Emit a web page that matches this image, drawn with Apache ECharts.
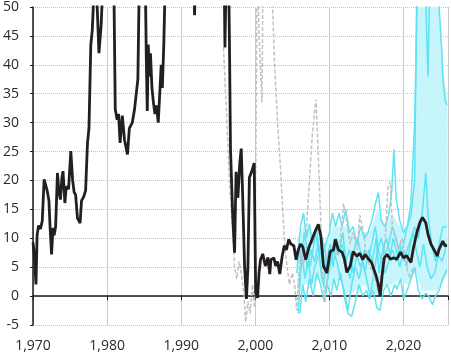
<!DOCTYPE html>
<html>
<head>
<meta charset="utf-8">
<script src="https://cdn.jsdelivr.net/npm/echarts@6/dist/echarts.min.js"></script>
<style>
  html, body { margin: 0; padding: 0; background: #fff; }
  #chart { width: 451px; height: 353px; }
</style>
</head>
<body>
<div id="chart"></div>
<script>
    'use strict';

    // axis ticks
    var yTicks = [-5, 0, 5, 10, 15, 20, 25, 30, 35, 40, 45, 50];
    var xTicks = [1970, 1980, 1990, 2000, 2010, 2020];

    // main series (black), values above 50 run off the top of the chart
    var blackLine = [
        [1970.0, 9.3], [1970.15, 7.5], [1970.4, 2.0], [1970.55, 10.5], [1970.75, 12.2], [1971.0, 11.6],
        [1971.25, 13.0], [1971.5, 20.2], [1971.7, 20.0], [1971.9, 18.3], [1972.15, 16.5], [1972.3, 12.0],
        [1972.5, 7.2], [1972.7, 11.8], [1972.85, 10.5], [1973.05, 12.0], [1973.3, 21.3], [1973.5, 18.0],
        [1973.7, 16.7], [1973.9, 20.5], [1974.05, 21.6], [1974.3, 16.1], [1974.5, 19.0], [1974.8, 18.5],
        [1975.1, 25.1], [1975.35, 20.0], [1975.55, 18.0], [1975.75, 17.5], [1976.0, 13.5], [1976.35, 12.6],
        [1976.55, 16.5], [1976.85, 17.2], [1977.1, 18.3], [1977.35, 26.5], [1977.55, 29.0], [1977.8, 43.5],
        [1978.0, 46.0], [1978.3, 55], [1978.6, 52], [1978.9, 42.0], [1979.2, 47], [1979.45, 55],
        [1980.0, 70], [1980.9, 55], [1981.1, 32.3], [1981.35, 30.5], [1981.55, 31.5], [1981.75, 26.5],
        [1982.05, 31.2], [1982.35, 27.0], [1982.75, 24.5], [1983.0, 29.0], [1983.4, 30.0], [1983.7, 32.3],
        [1984.0, 35.8], [1984.15, 37.5], [1984.35, 55], [1984.8, 60], [1985.15, 55], [1985.3, 40],
        [1985.42, 32], [1985.55, 43.5], [1985.7, 38], [1985.85, 42], [1986.05, 36], [1986.25, 33.5],
        [1986.45, 31.5], [1986.65, 33], [1986.9, 30.0], [1987.1, 35], [1987.3, 40], [1987.45, 36],
        [1987.65, 43.5], [1987.85, 55], [1989.0, 70], [1991.6, 60], [1991.8, 48.6], [1992.0, 60],
        [1994.0, 70], [1995.8, 55], [1995.9, 43], [1996.05, 55], [1996.35, 60], [1996.5, 45],
        [1996.65, 25.4], [1996.95, 13.8], [1997.2, 7.5], [1997.4, 21.5], [1997.65, 17], [1997.9, 23],
        [1998.1, 25.5], [1998.3, 17], [1998.55, 5.2], [1998.8, -0.5], [1999.0, 5], [1999.2, 20.5],
        [1999.5, 21.5], [1999.85, 23], [2000.05, 0.6], [2000.3, -0.3], [2000.5, 4], [2000.7, 6.3],
        [2001.0, 7.3], [2001.35, 5.2], [2001.7, 6.7], [2001.95, 3.8], [2002.1, 6.3], [2002.5, 6.6],
        [2002.75, 5.2], [2003.0, 6.0], [2003.3, 3.8], [2003.6, 6.7], [2003.9, 8.7], [2004.2, 8.0],
        [2004.5, 9.8], [2004.8, 9.0], [2005.2, 8.7], [2005.5, 6.3], [2005.8, 8.0], [2006.1, 9.0],
        [2006.4, 8.5], [2006.8, 6.3], [2007.2, 8.3], [2007.65, 9.8], [2008.1, 11.3], [2008.5, 12.4],
        [2008.85, 10.3], [2009.2, 5.2], [2009.65, 4.0], [2010.1, 7.7], [2010.55, 8.0], [2010.8, 9.8],
        [2011.2, 8.0], [2011.7, 7.6], [2012.0, 6.5], [2012.35, 4.1], [2012.8, 5.2], [2013.2, 7.7],
        [2013.7, 6.9], [2014.1, 7.4], [2014.5, 6.3], [2014.8, 7.2], [2015.3, 6.4], [2015.7, 5.8],
        [2016.0, 4.6], [2016.3, 3.5], [2016.6, 2.0], [2016.85, 0.0], [2017.1, 3.5], [2017.4, 6.6],
        [2017.8, 7.2], [2018.2, 6.4], [2018.7, 6.6], [2019.1, 6.4], [2019.6, 7.6], [2020.0, 6.6],
        [2020.4, 7.0], [2020.7, 6.4], [2021.0, 5.8], [2021.3, 8.1], [2021.8, 11.0], [2022.2, 12.7],
        [2022.55, 13.6], [2023.0, 12.7], [2023.3, 10.7], [2023.7, 9.0], [2024.2, 7.8], [2024.55, 6.9],
        [2024.8, 8.1], [2025.3, 9.5], [2025.6, 8.7], [2025.85, 8.8]
    ];

    // grey dashed series
    var greyLine = [
        [1995.7, 43], [1996.1, 32], [1996.5, 20], [1996.9, 12], [1997.2, 5], [1997.5, 3], [1997.8, 6],
        [1998.1, 4], [1998.4, 1], [1998.7, -4.5], [1999.0, -1], [1999.3, -3], [1999.6, 2], [1999.9, -2],
        [2000.1, 30], [2000.25, 60], [2000.5, 45], [2000.9, 33.5], [2001.05, 60], [2001.5, 70],
        [2002.2, 55], [2002.6, 40], [2003.0, 30], [2003.4, 22], [2003.7, 15], [2004.0, 8], [2004.3, 5],
        [2004.6, 2], [2005.0, 4], [2005.3, 2], [2005.6, -2.5], [2005.9, 4], [2006.2, 8], [2006.5, 5],
        [2006.8, 10], [2007.1, 16], [2007.4, 22], [2007.7, 28], [2008.0, 32], [2008.2, 34], [2008.5, 24],
        [2008.8, 14], [2009.1, 4], [2009.4, -1], [2009.7, 3], [2010.0, 6], [2010.5, 9], [2011.0, 7],
        [2011.5, 10], [2011.9, 16], [2012.3, 13], [2012.8, 9], [2013.2, 11], [2013.7, 8], [2014.1, 14],
        [2014.6, 11], [2015.0, 7], [2015.5, 5], [2016.0, 4], [2016.5, 1], [2017.0, 4], [2017.5, 9],
        [2017.9, 19], [2018.2, 19.8], [2018.5, 12], [2018.9, 10], [2019.3, 8], [2019.8, 10], [2020.2, 7],
        [2020.6, 4], [2020.9, 3], [2021.2, 5]
    ];

    // cyan series
    var cyanA = [
        [2005.7, 6], [2006.1, 12], [2006.5, 14.4], [2006.9, 10], [2007.3, 12.5], [2007.7, 9], [2008.1, 11],
        [2008.5, 8], [2009.0, 7], [2009.5, 9], [2010.0, 11], [2010.4, 14.4], [2010.8, 12], [2011.3, 14.4],
        [2011.7, 12], [2012.2, 15], [2012.7, 11], [2013.2, 12], [2013.7, 9], [2014.2, 12], [2014.7, 10],
        [2015.2, 11], [2015.7, 13], [2016.2, 16], [2016.6, 17.9], [2017.0, 13], [2017.5, 12], [2018.0, 14],
        [2018.4, 18], [2018.7, 25.4], [2019.0, 17], [2019.5, 13], [2020.0, 11], [2020.5, 12], [2021.0, 14],
        [2021.5, 20], [2021.8, 55], [2022.5, 70], [2023.5, 70], [2024.7, 52], [2024.9, 47.9],
        [2025.15, 42.7], [2025.3, 38], [2025.6, 34], [2025.85, 33]
    ];
    var cyanB = [
        [2005.8, -3], [2006.1, 4], [2006.5, 9], [2007.0, 5], [2007.5, 8], [2008.0, 6], [2008.5, 9],
        [2009.0, 3], [2009.5, 1], [2010.0, 5], [2010.5, 8], [2011.0, 6], [2011.5, 3], [2012.0, 1],
        [2012.5, -2.5], [2013.0, 2], [2013.5, 5], [2014.0, 3], [2014.5, 6], [2015.0, 3], [2015.5, 0],
        [2016.0, 4], [2016.5, 8], [2017.0, 10], [2017.5, 7], [2018.0, 9], [2018.5, 12], [2019.0, 10],
        [2019.5, 7], [2020.0, 9], [2020.5, 12], [2021.0, 16], [2021.5, 30], [2021.9, 55], [2022.8, 60],
        [2023.3, 38], [2023.6, 58], [2024.2, 60], [2024.9, 55], [2025.85, 52]
    ];
    var cyanC = [
        [2005.9, 2], [2006.3, 7], [2006.7, 3], [2007.1, 6], [2007.6, 2], [2008.0, 5], [2008.5, 7],
        [2009.0, 10], [2009.4, 8], [2009.8, 3], [2010.2, 6], [2010.7, 10], [2011.2, 7], [2011.7, 9],
        [2012.2, 6], [2012.7, 8], [2013.2, 4], [2013.7, 7], [2014.2, 5], [2014.7, 8], [2015.2, 6],
        [2015.7, 9], [2016.2, 12], [2016.6, 8], [2017.0, 6], [2017.5, 4], [2018.0, 6], [2018.5, 8],
        [2019.0, 6], [2019.5, 9], [2020.0, 6], [2020.5, 8], [2021.0, 10], [2021.5, 12], [2022.0, 10],
        [2022.5, 14], [2023.0, 21.3], [2023.3, 14], [2023.8, 9], [2024.3, 6], [2024.8, 9], [2025.3, 12],
        [2025.85, 12]
    ];
    var cyanD = [
        [2006.0, -3], [2006.4, 2], [2006.8, -1], [2007.3, 3], [2007.8, 0], [2008.3, 4], [2008.8, 2],
        [2009.3, -1], [2009.7, 2], [2010.2, 0], [2010.6, 3], [2011.0, 1], [2011.5, 4], [2012.0, 0],
        [2012.5, -3], [2013.0, -3.5], [2013.5, -1], [2014.0, 2], [2014.5, 0], [2015.0, 1], [2015.4, -0.5],
        [2015.9, 1], [2016.4, -2], [2016.8, -2.5], [2017.3, 1], [2017.8, 2], [2018.3, 0], [2018.8, 2],
        [2019.1, 1.2], [2019.6, 3], [2020.0, -0.5], [2020.5, 1], [2021.0, 3], [2021.5, 5], [2022.0, 1],
        [2022.5, -0.5], [2023.0, 0.5], [2023.4, 0], [2023.9, -1.5], [2024.3, 0], [2024.8, 1], [2025.3, 3],
        [2025.85, 4.6]
    ];
    var cyanE = [
        [2005.6, 4], [2005.9, 9], [2006.2, 5], [2006.6, 11], [2007.0, 8], [2007.4, 5], [2007.9, 9],
        [2008.3, 12], [2008.7, 6], [2009.2, 2], [2009.6, 6], [2010.1, 9], [2010.5, 5], [2010.9, 10],
        [2011.4, 8], [2011.8, 11], [2012.3, 5], [2012.8, 3], [2013.3, 8], [2013.8, 10], [2014.3, 7],
        [2014.8, 4], [2015.3, 8], [2015.8, 6], [2016.3, 10], [2016.7, 4], [2017.2, 8], [2017.7, 10],
        [2018.2, 7], [2018.6, 10], [2019.0, 8], [2019.5, 5], [2020.0, 8], [2020.4, 5], [2020.8, 8],
        [2021.3, 11], [2021.7, 8], [2022.2, 5], [2022.7, 9], [2023.2, 5], [2023.7, 3], [2024.2, 4],
        [2024.7, 7], [2025.2, 6], [2025.85, 9]
    ];

    // shaded range
    var bandYears = [2005.7, 2006.5, 2007.5, 2008.5, 2009.5, 2010.5, 2011.5, 2012.5, 2013.5, 2014.5, 2015.5,
        2016.5, 2017.5, 2018.5, 2019.5, 2020.5, 2021.0, 2021.5, 2021.8, 2022.5, 2023.5, 2024.5, 2025.0, 2025.5, 2025.9];
    var bandLow = [1, 2, 2, 3, 1, 2, 3, 0, 1, 2, 1, 0, 2, 2, 3, 2, 3, 4, 4, 1, 1, 1, 2, 3, 4];
    var bandHigh = [10, 12, 11, 10, 9, 12, 12, 12, 10, 11, 11, 15, 12, 14, 12, 12, 14, 20, 60, 70, 70, 60, 45, 37, 33];

    var CYAN = '#5ee3f4';
    var BAND = '#c6f5fb';
    var labelFont = { color: '#2a2a2a', fontSize: 14, fontFamily: 'Open Sans' };

    var chart = echarts.init(document.getElementById('chart'));

    function cyanSeries(data) {
        return {
            type: 'line', data: data, symbol: 'none', z: 4,
            lineStyle: { color: CYAN, width: 1.5 }
        };
    }

    // one quad between neighbouring band points
    function renderBand(params, api) {
        var i = params.dataIndex;
        if (i >= bandYears.length - 1) return;
        var pts = [
            api.coord([bandYears[i], bandHigh[i]]),
            api.coord([bandYears[i + 1], bandHigh[i + 1]]),
            api.coord([bandYears[i + 1], bandLow[i + 1]]),
            api.coord([bandYears[i], bandLow[i]])
        ];
        var cs = params.coordSys;
        return {
            type: 'polygon',
            shape: { points: pts },
            style: { fill: BAND, stroke: BAND, lineWidth: 0.6 },
            clipPath: { type: 'rect', shape: { x: cs.x, y: cs.y, width: cs.width, height: cs.height } }
        };
    }

    chart.setOption({
        animation: false,
        grid: { left: 32, right: 3, top: 7, bottom: 28 },
        xAxis: [{
            type: 'value', min: 1970, max: 2026, interval: 10,
            axisLine: { show: false },
            axisTick: { show: false },
            axisLabel: Object.assign({ margin: 14, showMaxLabel: false }, labelFont),
            splitLine: { show: true, lineStyle: { color: '#c9c9c9', width: 1 } }
        }, {
            type: 'value', min: 1970, max: 2026, interval: 10, position: 'top', z: 3,
            axisLine: { show: true, onZero: true, onZeroAxisIndex: 0, lineStyle: { color: '#1a1a1a', width: 1.5 } },
            axisTick: { show: true, inside: true, length: 4, lineStyle: { color: '#1a1a1a' } },
            axisLabel: { show: false },
            splitLine: { show: false }
        }],
        yAxis: {
            type: 'value', min: yTicks[0], max: yTicks[yTicks.length - 1], interval: 5,
            axisLine: { show: true, onZero: false, lineStyle: { color: '#1a1a1a', width: 1.5 } },
            axisTick: { show: true, length: 3, lineStyle: { color: '#1a1a1a' } },
            axisLabel: Object.assign({ margin: 14 }, labelFont),
            splitLine: { show: true, lineStyle: { color: '#c4c4c4', type: 'dotted', width: 1 } }
        },
        series: [
            {
                type: 'custom', z: 1, silent: true,
                data: bandYears.map(function (y, i) { return [y, bandLow[i], bandHigh[i]]; }),
                encode: { x: 0, y: [1, 2] },
                renderItem: renderBand
            },
            cyanSeries(cyanA),
            cyanSeries(cyanB),
            cyanSeries(cyanC),
            cyanSeries(cyanD),
            cyanSeries(cyanE),
            {
                type: 'line', data: greyLine, symbol: 'none', z: 5,
                lineStyle: { color: '#c2c2c2', width: 1.5, type: [4, 2] }
            },
            {
                type: 'line', data: blackLine, symbol: 'none', z: 6,
                lineStyle: { color: '#231f20', width: 2.8 }
            }
        ]
    });
</script>
</body>
</html>
